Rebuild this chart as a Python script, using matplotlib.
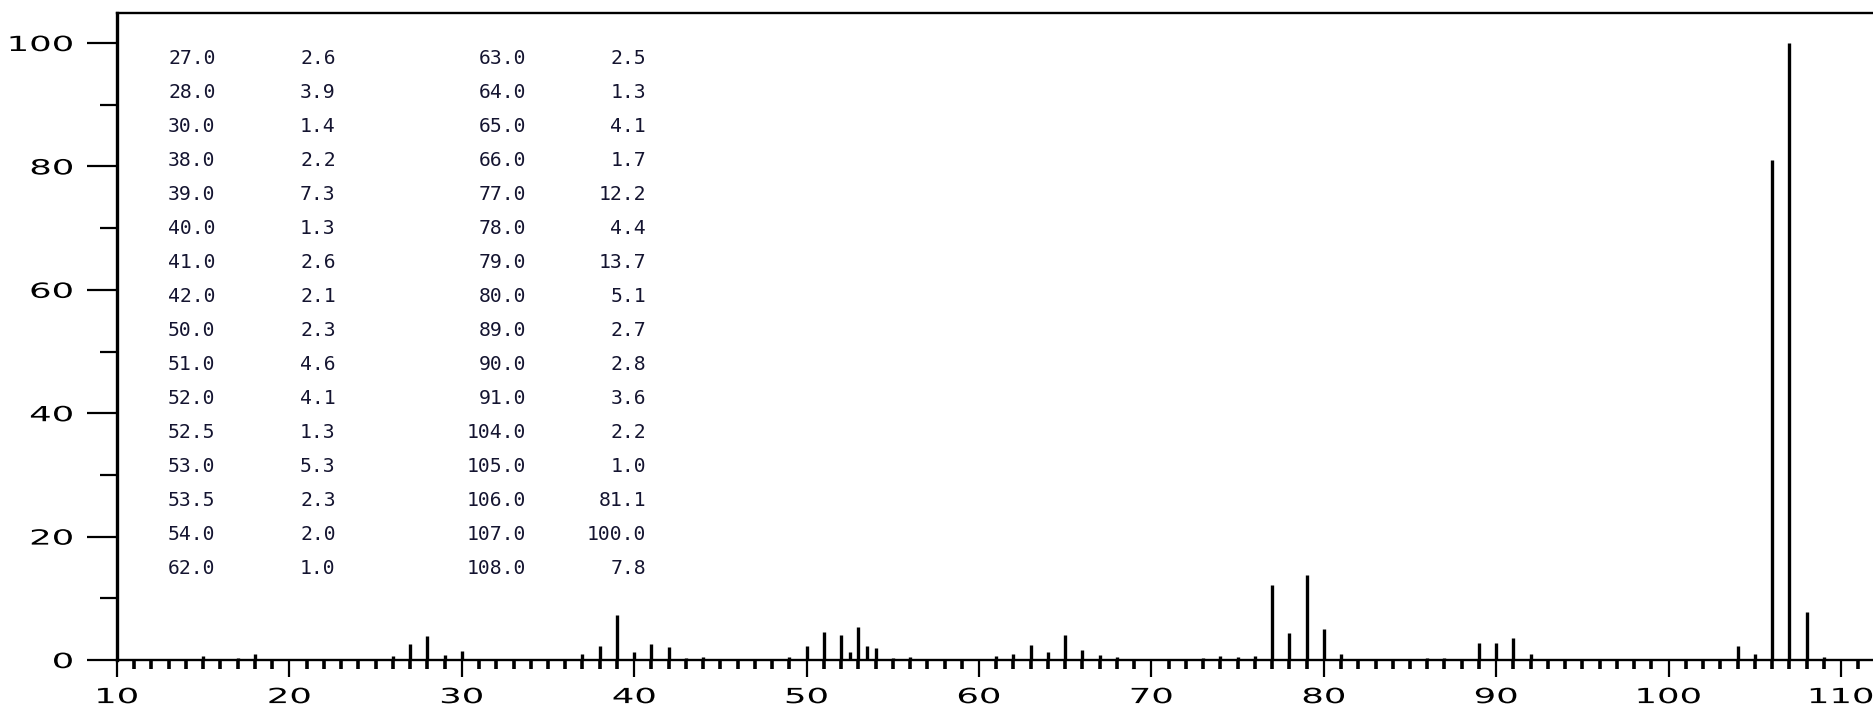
import matplotlib
matplotlib.use("Agg")
import matplotlib.pyplot as plt
from matplotlib.patheffects import AbstractPathEffect
from matplotlib.transforms import Affine2D
from matplotlib.ticker import MultipleLocator

# ---- data: mass spectrum (m/z, relative intensity) ----
mz = [15, 17, 18, 26, 27, 28, 29, 30, 37, 38, 39, 39.5, 40, 40.5, 41, 42, 43, 44,
      49, 50, 51, 51.5, 52, 52.5, 53, 53.5, 54, 55, 56, 61, 62, 63, 64, 65, 66, 67,
      68, 71, 73, 74, 75, 76, 77, 78, 79, 80, 81, 86, 87, 89, 90, 91, 92, 104, 105,
      105.5, 106, 106.5, 107, 108, 109]
intensity = [0.6, 0.3, 0.9, 0.7, 2.6, 3.9, 0.8, 1.4, 0.9, 2.2, 7.3, 0.2, 1.3, 0.2, 2.6, 2.1, 0.4, 0.5,
             0.5, 2.3, 4.6, 0.2, 4.1, 1.3, 5.3, 2.3, 2.0, 0.3, 0.5, 0.6, 1.0, 2.5, 1.3, 4.1, 1.7, 0.8,
             0.5, 0.2, 0.4, 0.7, 0.5, 0.7, 12.2, 4.4, 13.7, 5.1, 0.9, 0.4, 0.3, 2.7, 2.8, 3.6, 0.9, 2.2, 1.0,
             0.2, 81.1, 0.2, 100.0, 7.8, 0.5]

x_ticks = [10, 20, 30, 40, 50, 60, 70, 80, 90, 100, 110]
y_ticks = [0, 20, 40, 60, 80, 100]

# peak table (peaks >= 1.0)
table = [(m, i) for m, i in zip(mz, intensity) if i >= 1.0]
n_rows = (len(table) + 1) // 2
table_left = table[:n_rows]
table_right = table[n_rows:]


class HStretch(AbstractPathEffect):
    """Stretch glyph outlines horizontally around an anchor."""
    def __init__(self, sx, anchor="center"):
        super().__init__()
        self.sx = sx
        self.anchor = anchor

    def draw_path(self, renderer, gc, tpath, affine, rgbFace=None):
        ext = tpath.get_extents()
        if self.anchor == "right":
            cx = ext.x1
        elif self.anchor == "left":
            cx = ext.x0
        else:
            cx = 0.5 * (ext.x0 + ext.x1)
        t = Affine2D().translate(-cx, 0).scale(self.sx, 1.0).translate(cx, 0) + affine
        renderer.draw_path(gc, tpath, t, rgbFace)


W, H = 1873, 709
fig = plt.figure(figsize=(W / 100, H / 100), dpi=100)
ax = fig.add_axes([117 / W, (H - 660) / H, 1 - 117 / W, (660 - 13) / H])

ax.vlines(mz, 0, intensity, colors="black", linewidth=2.4)

ax.set_xlim(10, 10 + (W - 117) / 17.24)
ax.set_ylim(0, (660 - 13) / 6.17)

ax.xaxis.set_major_locator(plt.FixedLocator(x_ticks))
ax.xaxis.set_minor_locator(MultipleLocator(1))
ax.yaxis.set_major_locator(plt.FixedLocator(y_ticks))
ax.yaxis.set_minor_locator(MultipleLocator(10))
ax.set_xticklabels([str(v) for v in x_ticks])
ax.set_yticklabels([str(v) for v in y_ticks])

ax.tick_params(axis="x", which="major", direction="out", length=12.5, width=1.6,
               pad=7, labelsize=15, colors="black")
ax.tick_params(axis="x", which="minor", direction="out", length=6.5, width=2.6, colors="black")
ax.tick_params(axis="y", which="major", direction="out", length=21.5, width=1.6,
               pad=10, labelsize=15, colors="black")
ax.tick_params(axis="y", which="minor", direction="out", length=12, width=1.6, colors="black")

for lbl in ax.get_xticklabels():
    lbl.set_path_effects([HStretch(1.7, "center")])
for lbl in ax.get_yticklabels():
    lbl.set_path_effects([HStretch(1.7, "right")])

ax.spines["right"].set_visible(False)
ax.spines["left"].set_linewidth(2.4)
ax.spines["top"].set_linewidth(1.7)
ax.spines["bottom"].set_linewidth(1.7)
for s in ax.spines.values():
    s.set_color("black")

# ---- peak table ----
txt_color = "#141430"
mono = dict(family="DejaVu Sans Mono", fontsize=14.2, color=txt_color)
row0_baseline = 64.0
row_step = 34.0


def fx(px):
    return px / W


def fy(py):
    return 1 - py / H


for r, (m, i) in enumerate(table_left):
    yb = fy(row0_baseline + r * row_step)
    fig.text(fx(168), yb, f"{m:.1f}", ha="left", va="baseline", **mono)
    fig.text(fx(300), yb, f"{i:.1f}", ha="left", va="baseline", **mono)
for r, (m, i) in enumerate(table_right):
    yb = fy(row0_baseline + r * row_step)
    fig.text(fx(526), yb, f"{m:.1f}", ha="right", va="baseline", **mono)
    fig.text(fx(646), yb, f"{i:.1f}", ha="right", va="baseline", **mono)

fig.savefig("out.png", dpi=100, facecolor="white")
